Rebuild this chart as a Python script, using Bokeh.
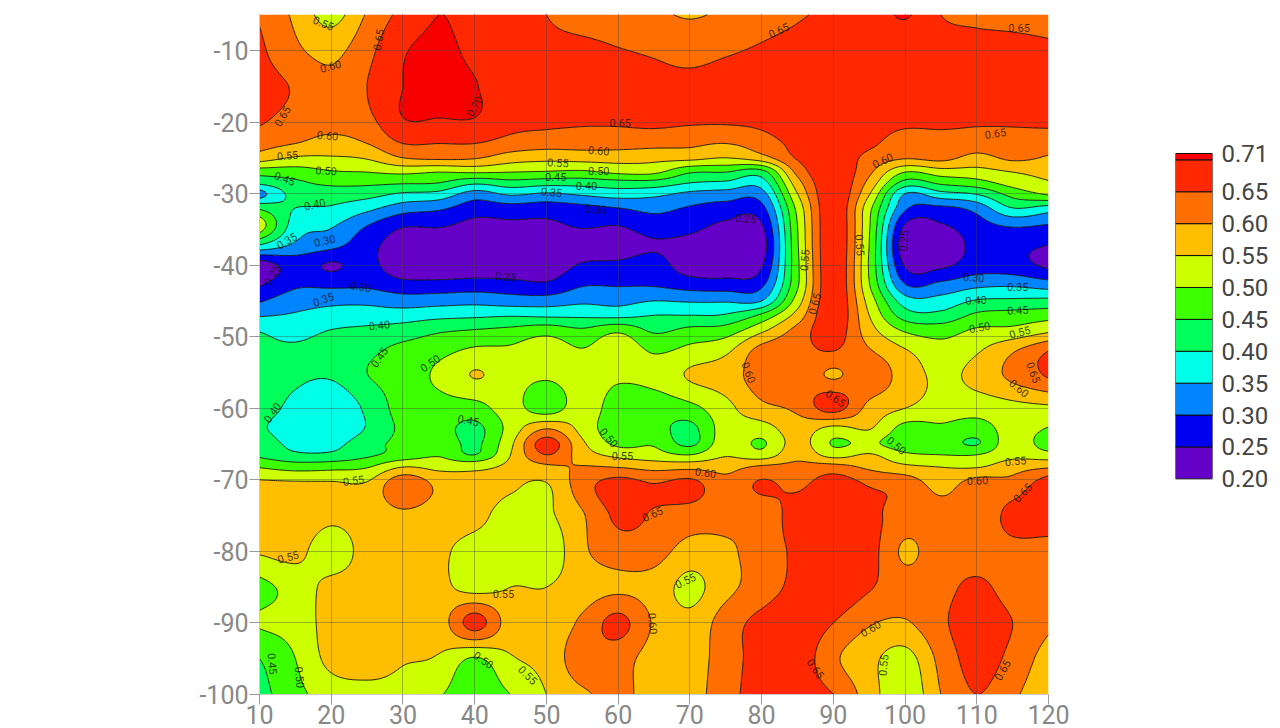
import numpy as np
from bokeh.embed import file_html
from bokeh.resources import INLINE
from bokeh.plotting import figure
from bokeh.layouts import row
from bokeh.models import Range1d, FixedTicker, NumeralTickFormatter, LinearAxis
from bokeh.core.properties import value

LEVELS = [0.20,0.25,0.30,0.35,0.40,0.45,0.50,0.55,0.60,0.65,0.70,0.71]
COLORS = ["#6400c8","#0000f0","#0084ff","#00ffe6","#00ff5a","#3cff00","#ccff00","#ffbe00","#ff6e00","#ff2800","#f80000"]
BAR_TICKS = [0.20,0.25,0.30,0.35,0.40,0.45,0.50,0.55,0.60,0.65,0.71]
X_TICKS = [10,20,30,40,50,60,70,80,90,100,110,120]
Y_TICKS = [-10,-20,-30,-40,-50,-60,-70,-80,-90,-100]

lat = [-5,-10,-15,-20,-23,-25,-27,-28.5,-30,-32,-34.5,-37,-40,-43,-45,-47,-49,-52,-55,-60,-63,-65,-66.5,-68,-70,-75,-80,-85,-90,-95,-100]
lon = [10,15,20,25,30,35,40,45,50,55,60,65,70,75,80,85,90,95,100,105,110,115,120]

x10=[.645,.66,.67,.655,.62,.575,.47,.41,.33,.44,.53,.41,.22,.25,.295,.345,.395,.41,.42,.425,.41,.435,.44,.49,.55,.57,.555,.485,.505,.45,.43]
x15=[.59,.61,.645,.63,.60,.545,.475,.44,.42,.40,.375,.345,.27,.295,.33,.355,.38,.41,.41,.385,.37,.385,.41,.47,.545,.58,.565,.52,.52,.50,.485]
x20=[.53,.585,.615,.62,.58,.545,.495,.46,.425,.395,.355,.32,.245,.295,.34,.365,.40,.425,.41,.358,.36,.385,.41,.475,.545,.56,.52,.565,.57,.565,.52]
x25=[.605,.635,.65,.635,.60,.555,.50,.46,.42,.365,.30,.27,.265,.295,.34,.37,.41,.44,.45,.41,.405,.43,.44,.49,.545,.57,.57,.57,.58,.575,.53]
x30=[.665,.695,.70,.695,.65,.60,.51,.455,.395,.325,.255,.225,.215,.275,.325,.375,.42,.465,.47,.47,.46,.465,.47,.54,.625,.59,.575,.575,.58,.555,.53]
x35=[.70,.709,.709,.695,.65,.61,.50,.45,.385,.31,.255,.215,.21,.275,.33,.385,.44,.485,.51,.48,.47,.485,.495,.53,.58,.575,.56,.565,.575,.545,.505]
x40=[.68,.69,.702,.695,.65,.605,.505,.41,.33,.275,.235,.21,.215,.28,.335,.39,.45,.51,.552,.48,.435,.44,.45,.53,.565,.565,.53,.53,.67,.495,.46]
x45=[.67,.665,.675,.665,.63,.575,.50,.43,.36,.28,.24,.215,.215,.275,.325,.395,.46,.51,.525,.52,.52,.54,.55,.56,.56,.53,.525,.55,.575,.545,.50]
x50=[.65,.66,.665,.66,.62,.565,.495,.42,.345,.275,.24,.22,.22,.265,.325,.39,.475,.53,.515,.47,.605,.675,.65,.595,.555,.54,.515,.55,.565,.565,.55]
x55=[.63,.66,.66,.655,.62,.57,.49,.42,.36,.285,.255,.225,.255,.30,.34,.39,.455,.505,.53,.53,.535,.56,.575,.60,.625,.595,.59,.575,.61,.63,.59]
x60=[.62,.652,.66,.655,.62,.57,.51,.43,.375,.30,.25,.225,.26,.30,.335,.385,.485,.535,.515,.47,.465,.49,.535,.59,.66,.66,.625,.59,.665,.62,.615]
x65=[.61,.645,.66,.66,.615,.565,.51,.43,.365,.315,.275,.245,.27,.30,.35,.40,.44,.495,.52,.47,.47,.495,.52,.575,.64,.645,.62,.58,.595,.58,.575]
x70=[.595,.635,.66,.655,.61,.565,.455,.40,.34,.295,.265,.235,.225,.285,.345,.40,.46,.515,.555,.485,.435,.44,.50,.575,.655,.625,.58,.535,.565,.57,.575]
x75=[.61,.645,.665,.655,.60,.55,.45,.39,.33,.28,.24,.215,.22,.28,.345,.405,.47,.54,.575,.535,.525,.53,.545,.58,.61,.615,.59,.585,.625,.63,.635]
x80=[.63,.655,.67,.66,.625,.58,.43,.375,.33,.285,.245,.225,.245,.295,.35,.46,.535,.62,.625,.585,.525,.494,.52,.60,.651,.615,.625,.625,.665,.665,.665]
x85=[.645,.665,.675,.675,.665,.655,.615,.58,.55,.515,.50,.495,.49,.495,.525,.57,.615,.635,.64,.61,.575,.57,.585,.61,.632,.675,.66,.665,.685,.68,.675]
x90=[.66,.68,.685,.685,.685,.685,.69,.69,.69,.69,.69,.69,.69,.69,.69,.69,.68,.65,.593,.67,.53,.496,.53,.61,.67,.685,.69,.69,.65,.61,.65]
x95=[.67,.675,.68,.67,.66,.635,.61,.585,.555,.515,.505,.50,.495,.505,.53,.55,.57,.605,.635,.585,.55,.51,.555,.585,.635,.665,.67,.655,.605,.565,.575]
x100=[.705,.67,.68,.66,.625,.605,.50,.43,.35,.31,.245,.215,.245,.31,.375,.425,.49,.555,.575,.55,.48,.47,.51,.555,.62,.625,.592,.62,.595,.53,.51]
x105=[.65,.67,.68,.66,.63,.615,.525,.46,.385,.29,.245,.215,.24,.32,.37,.415,.475,.52,.54,.525,.49,.475,.50,.545,.575,.62,.63,.635,.64,.615,.60]
x110=[.64,.665,.675,.655,.625,.585,.53,.48,.405,.32,.28,.265,.275,.345,.405,.46,.505,.545,.565,.52,.475,.447,.50,.54,.61,.615,.625,.66,.68,.67,.65]
x115=[.64,.66,.675,.655,.63,.61,.55,.52,.47,.40,.305,.265,.27,.35,.41,.47,.51,.595,.615,.535,.52,.53,.535,.575,.61,.665,.635,.63,.65,.635,.61]
x120=[.64,.655,.67,.66,.62,.595,.565,.545,.51,.38,.295,.252,.24,.335,.415,.48,.535,.65,.66,.54,.495,.47,.52,.585,.67,.67,.635,.62,.61,.575,.555]

columns = [x10,x15,x20,x25,x30,x35,x40,x45,x50,x55,x60,x65,x70,x75,x80,x85,x90,x95,x100,x105,x110,x115,x120]

label_text = ["0.55","0.60","0.65","0.65","0.70","0.60","0.55","0.50","0.45","0.40","0.35","0.30","0.25","0.40","0.30","0.35","0.40","0.45","0.50","0.55","0.55",
 "0.65","0.60","0.55","0.50","0.45","0.40","0.35","0.30","0.25","0.25","0.45","0.50","0.55","0.60","0.65","0.55","0.55","0.60","0.50","0.55","0.45","0.50",
 "0.60","0.65","0.50","0.65","0.60","0.55","0.60","0.65","0.60","0.55","0.65","0.65","0.65","0.55","0.55","0.60","0.65","0.65","0.65","0.25","0.30","0.35","0.40","0.45","0.50","0.55"]
label_x = [18.9,19.9,26.6,13.2,40,19.5,13.9,19.3,13.5,17.7,13.8,19.1,11.8,11.8,24.1,18.9,26.7,26.7,33.8,23.1,14,
 60.3,57.3,51.6,57.3,51.3,55.6,50.7,56.9,77.8,44.3,39.1,58.7,60.6,72.2,64.8,44,69.4,64.8,41.2,47.4,11.8,15.6,
 78.2,90.3,98.8,117.9,115.9,115.4,110.1,116.4,95.2,97,87.5,113.6,87.4,86,93.7,96.9,112.6,82.4,115.9,99.8,109.6,115.7,109.9,115.7,110.4,116]
label_y = [-6.2,-12.2,-8.5,-19.2,-17.8,-21.9,-24.7,-26.8,-27.9,-31.5,-36.6,-36.6,-41.4,-60.6,-43,-44.8,-48.4,-52.9,-53.7,-70.1,-80.8,
 -20.2,-24,-25.7,-26.8,-27.7,-29,-29.8,-32.2,-33.5,-41.6,-61.7,-64.1,-66.7,-69,-74.8,-86,-84.1,-90.1,-95.2,-97.3,-95.7,-97.6,
 -55,-58.6,-65.2,-55,-57.2,-67.4,-70.1,-71.8,-90.8,-95.9,-96.4,-96.6,-45.4,-39.3,-37.2,-25.4,-21.6,-7.2,-6.9,-36.6,-41.7,-43.1,-44.9,-46.3,-48.7,-49.4]
label_angle = [-22,15,80,60,60,-5,5,-3,-20,12,30,12,60,55,-10,20,5,55,35,8,15,
 0,-5,-3,0,0,0,-5,-3,-5,-5,-10,-50,0,-8,25,0,25,-85,-35,-45,-85,-85,
 -70,-35,-40,-70,-40,5,3,45,30,85,-55,60,75,85,-85,25,8,25,0,85,-5,0,3,3,10,15]


def smooth_axis(t, v, tnew):
    """Cubic Hermite curve through the read values along axis 0 (drawing only)."""
    t = np.asarray(t, float)
    h = np.diff(t)
    d = np.diff(v, axis=0)
    shape = (-1,) + (1,) * (v.ndim - 1)
    s = d / h.reshape(shape)
    m = np.zeros_like(v)
    m[0], m[-1] = s[0], s[-1]
    w1 = h[1:].reshape(shape)
    w0 = h[:-1].reshape(shape)
    m[1:-1] = (w1 * s[:-1] + w0 * s[1:]) / (w0 + w1)
    idx = np.clip(np.searchsorted(t, tnew, side="right") - 1, 0, len(t) - 2)
    hh = h[idx].reshape(shape)
    u = ((tnew - t[idx]) / h[idx]).reshape(shape)
    return ((2*u**3 - 3*u**2 + 1) * v[idx] + (u**3 - 2*u**2 + u) * hh * m[idx]
            + (-2*u**3 + 3*u**2) * v[idx + 1] + (u**3 - u**2) * hh * m[idx + 1])


Z = np.array(columns, float).T[::-1, :]      # rows ascending in latitude
ys = np.array(lat, float)[::-1]
xs = np.array(lon, float)
fine_y = np.linspace(ys[0], ys[-1], 381)
fine_x = np.linspace(xs[0], xs[-1], 441)
Zf = smooth_axis(ys, Z, fine_y)
Zf = smooth_axis(xs, Zf.T, fine_x).T
Zf = np.clip(Zf, 0.2005, 0.7095)

p = figure(frame_width=789, frame_height=681, min_border_left=259, min_border_right=34, min_border_top=13, min_border_bottom=34,
           x_range=Range1d(10,120), y_range=Range1d(-100,-4.83), output_backend="svg", toolbar_location=None, outline_line_color=None)
p.contour(fine_x, fine_y, Zf, levels=LEVELS, fill_color=COLORS, line_color="#101010", line_width=1, line_alpha=0.9)
p.text(x=label_x, y=label_y, text=label_text, angle=label_angle, angle_units="deg", text_font=value("Roboto"), text_font_size="11px",
       text_align="center", text_baseline="middle", text_color="#111111", text_alpha=0.8)

p.xaxis.ticker = FixedTicker(ticks=X_TICKS)
p.yaxis.ticker = FixedTicker(ticks=Y_TICKS)
p.yaxis.major_label_overrides = {t: str(t) for t in Y_TICKS}
for ax in (p.xaxis[0], p.yaxis[0]):
    ax.major_label_text_font = "Roboto"
    ax.major_label_text_font_size = "25px"
    ax.major_label_text_color = "#888888"
    ax.axis_line_color = "#cccccc"
    ax.major_tick_line_color = "#999999"
    ax.major_tick_out = 10
    ax.major_tick_in = 0
    ax.minor_tick_line_color = None
p.xaxis.major_label_standoff = 0
p.yaxis.major_label_standoff = 1
p.xgrid.ticker = FixedTicker(ticks=X_TICKS)
p.ygrid.ticker = FixedTicker(ticks=Y_TICKS)
for g in (p.xgrid[0], p.ygrid[0]):
    g.level = "overlay"
    g.grid_line_color = "#444444"
    g.grid_line_alpha = 0.4
    g.grid_line_width = 1

bar = figure(frame_width=37, frame_height=681, min_border_left=93, min_border_right=60, min_border_top=13, min_border_bottom=34,
             x_range=Range1d(0,1), y_range=Range1d(-0.138,0.9294), output_backend="svg", toolbar_location=None, outline_line_color=None,
             x_axis_location=None, y_axis_location=None)
bar.grid.visible = False
bar.quad(left=0, right=1, bottom=LEVELS[:-1], top=LEVELS[1:], fill_color=COLORS, line_color="#101010", line_width=1)
ax = LinearAxis(ticker=FixedTicker(ticks=BAR_TICKS), formatter=NumeralTickFormatter(format="0.00"))
ax.axis_line_color = None
ax.major_tick_line_color = None
ax.minor_tick_line_color = None
ax.major_label_text_font = "Roboto"
ax.major_label_text_font_size = "24px"
ax.major_label_text_color = "#444444"
ax.major_label_standoff = 3
bar.add_layout(ax, "right")

open("out.html", "w").write(file_html(row(p, bar, spacing=0), INLINE))
